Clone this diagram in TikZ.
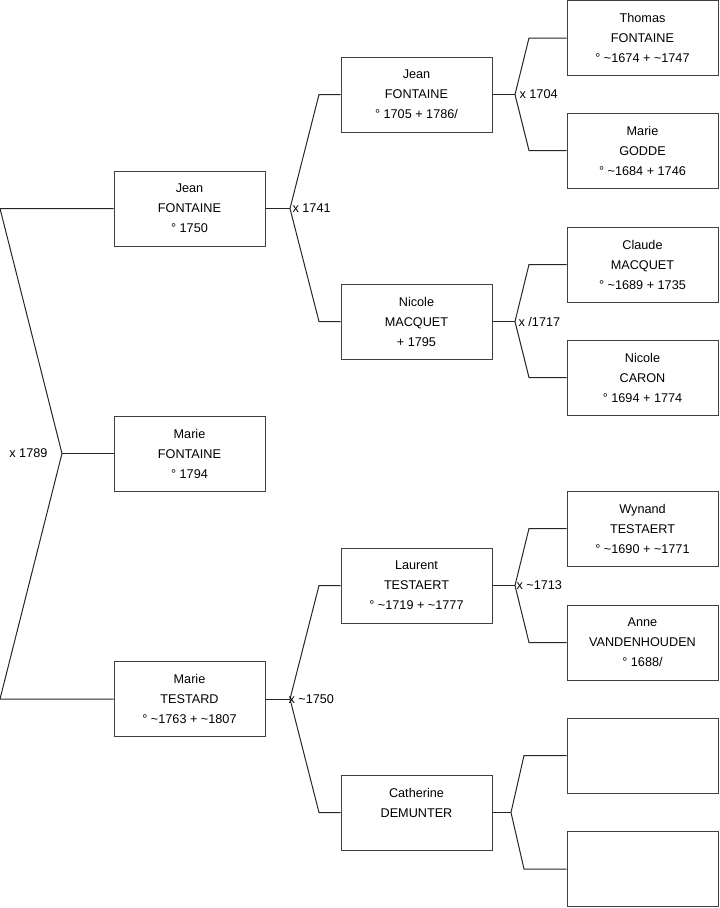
\documentclass[tikz,border=0pt]{standalone}
\usepackage{fontspec}
\setmainfont{Liberation Sans}
\newcommand{\circa}{\textasciitilde}
\begin{document}
\begin{tikzpicture}[
    x=0.75pt, y=-0.75pt,
    % Fiches des personnes
    fiche/.style={
        draw=black!75, line width=0.75pt, fill=white,
        font=\fontsize{9.5}{15}\selectfont, minimum width=113.25pt,
        minimum height=56.25pt, align=center, inner sep=0pt
    },
    % Mentions de mariage
    mariage/.style={font=\fontsize{9.5}{11}\selectfont, inner sep=1pt},
    lien/.style={draw=black!85, line width=0.75pt}
]
\useasboundingbox (0,0) rectangle (719,908);

% ---- GÉNÉRATION 1 ----
\node[fiche] (jean1750) at (189.5,208.5) {Jean\\FONTAINE\\° 1750};
\node[fiche] (marie1794) at (189.5,453.5) {Marie\\FONTAINE\\° 1794};
\node[fiche] (marie_t)  at (189.5,699)   {Marie\\TESTARD\\° \circa1763 + \circa1807};

% ---- GÉNÉRATION 2 ----
\node[fiche] (jean1705)  at (416.5,94.5)  {Jean\\FONTAINE\\° 1705 + 1786/};
\node[fiche] (nicole_m)  at (416.5,321.5) {Nicole\\MACQUET\\+ 1795};
\node[fiche] (laurent)   at (416.5,585.5) {Laurent\\TESTAERT\\° \circa1719 + \circa1777};
\node[fiche] (catherine) at (416.5,812.5) {Catherine\\DEMUNTER\\\mbox{}};

% ---- GÉNÉRATION 3 ----
\node[fiche] (thomas)   at (642.5,38)    {Thomas\\FONTAINE\\° \circa1674 + \circa1747};
\node[fiche] (marie_g)  at (642.5,150.5) {Marie\\GODDE\\° \circa1684 + 1746};
\node[fiche] (claude)   at (642.5,264.5) {Claude\\MACQUET\\° \circa1689 + 1735};
\node[fiche] (nicole_c) at (642.5,377.5) {Nicole\\CARON\\° 1694 + 1774};
\node[fiche] (wynand)   at (642.5,528.5) {Wynand\\TESTAERT\\° \circa1690 + \circa1771};
\node[fiche] (anne)     at (642.5,642.5) {Anne\\VANDENHOUDEN\\° 1688/};
\node[fiche] (vide1)    at (642.5,755.5) {};
\node[fiche] (vide2)    at (642.5,869)   {};

% ---- PARENTS DE MARIE FONTAINE ----
\coordinate (f_marie)   at (62,453.5);
\coordinate (f_marie_h) at (0,208.5);
\coordinate (f_marie_b) at (0,699);
\draw[lien] (jean1750.west) -- (f_marie_h) -- (f_marie) -- (f_marie_b) -- (marie_t.west);
\draw[lien] (f_marie) -- (marie1794.west);
\node[mariage, anchor=east] (m1789) at (49,453.5) {x 1789};

% ---- PARENTS DE JEAN (1750) ----
\coordinate (f_jean)   at (290,208.5);
\coordinate (f_jean_h) at (319,94.5);
\coordinate (f_jean_b) at (319,321.5);
\draw[lien] (jean1750.east) -- (f_jean);
\draw[lien] (jean1705.west) -- (f_jean_h) -- (f_jean) -- (f_jean_b) -- (nicole_m.west);
\node[mariage, anchor=west] (m1741) at (291,208.5) {x 1741};

% ---- PARENTS DE MARIE TESTARD ----
\coordinate (f_mariet)   at (290,699);
\coordinate (f_mariet_h) at (319,585.5);
\coordinate (f_mariet_b) at (319,812.5);
\draw[lien] (marie_t.east) -- (f_mariet);
\draw[lien] (laurent.west) -- (f_mariet_h) -- (f_mariet) -- (f_mariet_b) -- (catherine.west);
\node[mariage, anchor=west] (m1750) at (287,699) {x \circa1750};

% ---- PARENTS DE JEAN (1705) ----
\coordinate (f_jean2)   at (515,94.5);
\coordinate (f_jean2_h) at (529,38);
\coordinate (f_jean2_b) at (529,150.5);
\draw[lien] (jean1705.east) -- (f_jean2);
\draw[lien] (thomas.west) -- (f_jean2_h) -- (f_jean2) -- (f_jean2_b) -- (marie_g.west);
\node[mariage, anchor=west] (m1704) at (518,94.5) {x 1704};

% ---- PARENTS DE NICOLE MACQUET ----
\coordinate (f_nicole)   at (515,321.5);
\coordinate (f_nicole_h) at (529,264.5);
\coordinate (f_nicole_b) at (529,377.5);
\draw[lien] (nicole_m.east) -- (f_nicole);
\draw[lien] (claude.west) -- (f_nicole_h) -- (f_nicole) -- (f_nicole_b) -- (nicole_c.west);
\node[mariage, anchor=west] (m1717) at (517,321.5) {x /1717};

% ---- PARENTS DE LAURENT ----
\coordinate (f_laurent)   at (515,585.5);
\coordinate (f_laurent_h) at (529,528.5);
\coordinate (f_laurent_b) at (529,642.5);
\draw[lien] (laurent.east) -- (f_laurent);
\draw[lien] (wynand.west) -- (f_laurent_h) -- (f_laurent) -- (f_laurent_b) -- (anne.west);
\node[mariage, anchor=west] (m1713) at (515,585.5) {x \circa1713};

% ---- PARENTS DE CATHERINE (inconnus) ----
\coordinate (f_cath)   at (511,812.5);
\coordinate (f_cath_h) at (524,755.5);
\coordinate (f_cath_b) at (524,869);
\draw[lien] (catherine.east) -- (f_cath);
\draw[lien] (vide1.west) -- (f_cath_h) -- (f_cath) -- (f_cath_b) -- (vide2.west);

\end{tikzpicture}
\end{document}
